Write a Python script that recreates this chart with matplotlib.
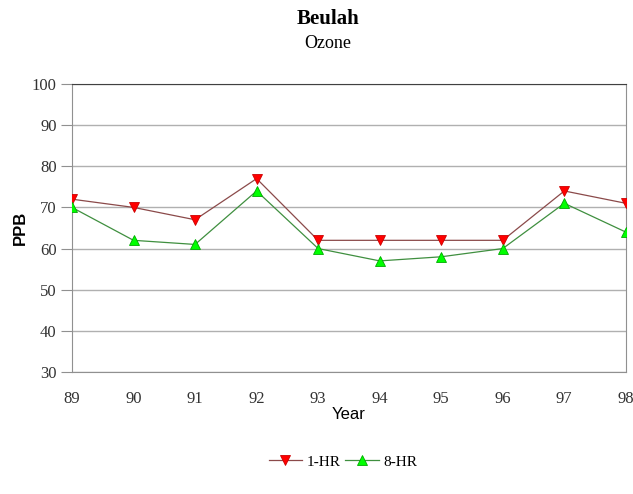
import matplotlib.pyplot as plt

years = [89, 90, 91, 92, 93, 94, 95, 96, 97, 98]
one_hr = [72, 70, 67, 77, 62, 62, 62, 62, 74, 71]
eight_hr = [70, 62, 61, 74, 60, 57, 58, 60, 71, 64]

serif = "Liberation Serif"
sans = "Liberation Sans"

fig = plt.figure(figsize=(6.33, 4.94), dpi=100)
ax = fig.add_axes([0.1137, 0.247, 0.875, 0.583])

ax.plot(years, one_hr, color="#8b4a4a", lw=0.9, marker="v", ms=7,
        mfc="#ff0000", mec="#cc0000", mew=0.6, label="1-HR", zorder=3)
ax.plot(years, eight_hr, color="#3f8f3f", lw=0.9, marker="^", ms=7,
        mfc="#00ff00", mec="#00aa00", mew=0.6, label="8-HR", zorder=3)

ax.set_xlim(89, 98)
ax.set_ylim(30, 100)
ax.set_yticks(range(30, 101, 10))
ax.set_xticks(years)
ax.grid(axis="y", color="#b0b0b0", lw=1)

for s in ["left", "right", "bottom"]:
    ax.spines[s].set_color("#909090")
ax.spines["top"].set_color("#404040")
ax.tick_params(axis="y", color="#909090", length=8, pad=3, labelsize=12)
ax.tick_params(axis="x", color="#d0d0d0", length=0, pad=14, labelsize=12)
for lab in ax.get_xticklabels() + ax.get_yticklabels():
    lab.set_fontfamily(serif)
    lab.set_color("#333333")

ax.set_xlabel("Year", fontfamily=sans, fontsize=12, labelpad=0)
ax.set_ylabel("PPB", fontfamily=sans, fontsize=12, fontweight="bold", labelpad=3)

fig.text(0.518, 0.962, "Beulah", ha="center", va="center",
         fontfamily=serif, fontweight="bold", fontsize=15)
fig.text(0.518, 0.912, "Ozone", ha="center", va="center",
         fontfamily=serif, fontsize=13)

fig.legend(loc="center", bbox_to_anchor=(0.542, 0.065), ncol=2, frameon=False,
           prop={"family": serif, "size": 11}, handlelength=2.2,
           columnspacing=0.3, handletextpad=0.3)

plt.savefig("out.png", dpi=100)
